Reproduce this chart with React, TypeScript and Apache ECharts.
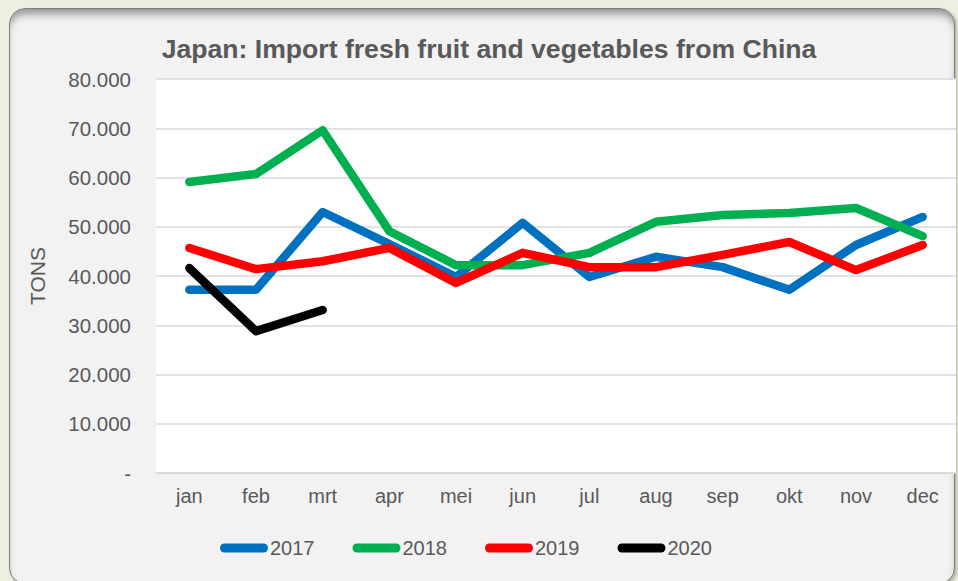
import React, { useEffect, useRef } from "react";
import * as echarts from "echarts";

const months = ["jan", "feb", "mrt", "apr", "mei", "jun", "jul", "aug", "sep", "okt", "nov", "dec"];
const s2017 = [37200, 37200, 53000, 46500, 39800, 50800, 39800, 43900, 41800, 37200, 46300, 52000];
const s2018 = [59100, 60700, 69600, 49100, 42200, 42200, 44700, 51000, 52400, 52800, 53800, 48100];
const s2019 = [45700, 41400, 43000, 45700, 38600, 44700, 41800, 41800, 44300, 46900, 41200, 46300];
const s2020 = [41600, 28800, 33100];
const seriesNames = ["2017", "2018", "2019", "2020"];
const seriesColors = ["#0070C0", "#00B050", "#FF0000", "#000000"];

const FONT = "'Liberation Sans', Arial, sans-serif";
const TXT = "#595959";

export default function App() {
  const ref = useRef<HTMLDivElement>(null);
  useEffect(() => {
    document.body.style.margin = "0";
    if (!ref.current) return;
    const chart = echarts.init(ref.current, undefined, { renderer: "svg" });
    const data = [s2017, s2018, s2019, s2020];
    const capsule = "path://M4.5,0 H43.5 A4.5,4.5 0 0 1 43.5,9 H4.5 A4.5,4.5 0 0 1 4.5,0 Z";
    chart.setOption({
      animation: false,
      backgroundColor: "transparent",
      textStyle: { fontFamily: FONT },
      title: {
        text: "Japan: Import fresh fruit and vegetables from China",
        left: 484,
        top: 30,
        textAlign: "center",
        textStyle: { fontFamily: FONT, fontSize: 26.6, fontWeight: "bold", color: TXT },
      },
      legend: {
        left: 220,
        top: 538,
        padding: 0,
        itemWidth: 48,
        itemHeight: 9,
        itemGap: 38,
        textStyle: { fontFamily: FONT, fontSize: 20, color: TXT, padding: [0, 0, 0, -3] },
        data: seriesNames.map((n, i) => ({ name: n, icon: capsule, itemStyle: { color: seriesColors[i] } })),
      },
      grid: {
        left: 156,
        right: 2,
        top: 79,
        bottom: 108,
        show: true,
        backgroundColor: "#ffffff",
        borderWidth: 0,
      },
      xAxis: {
        type: "category",
        data: months,
        boundaryGap: true,
        axisLine: { lineStyle: { color: "#d9d9d9", width: 1.5 } },
        axisTick: { show: false },
        axisLabel: { color: TXT, fontSize: 20, fontFamily: FONT, margin: 13 },
      },
      yAxis: {
        type: "value",
        min: 0,
        max: 80000,
        interval: 10000,
        axisLine: { show: false },
        axisTick: { show: false },
        splitLine: { lineStyle: { color: "#d9d9d9", width: 1.5 } },
        axisLabel: {
          color: TXT,
          fontSize: 20.5,
          fontFamily: FONT,
          margin: 25,
          formatter: (v: number) => (v === 0 ? "-" : (v / 1000).toFixed(3)),
        },
      },
      graphic: [
        {
          type: "text",
          x: 37,
          y: 276,
          rotation: Math.PI / 2,
          style: {
            text: "TONS",
            fontFamily: FONT,
            fontSize: 21,
            fill: TXT,
            textAlign: "center",
            textVerticalAlign: "middle",
          },
        },
      ],
      series: data.map((d, i) => ({
        name: seriesNames[i],
        type: "line",
        data: d,
        symbol: "none",
        showSymbol: false,
        lineStyle: { color: seriesColors[i], width: 8.5, cap: "round", join: "round" },
        itemStyle: { color: seriesColors[i] },
      })),
    });
    return () => chart.dispose();
  }, []);

  return (
    <div style={{ position: "relative", width: 958, height: 581, background: "#ebf1de", overflow: "hidden" }}>
      <div
        style={{
          position: "absolute",
          left: 9,
          top: 8,
          width: 946,
          height: 576,
          border: "1px solid #7f7f7f",
          borderRadius: 16,
          background: "#f2f2f2",
          boxShadow: "inset 0 8px 8px -3px rgba(0,0,0,0.4), 2px 2px 3px rgba(0,0,0,0.25)",
          boxSizing: "border-box",
        }}
      />
      <div ref={ref} style={{ position: "absolute", left: 0, top: 0, width: 958, height: 581 }} />
    </div>
  );
}
